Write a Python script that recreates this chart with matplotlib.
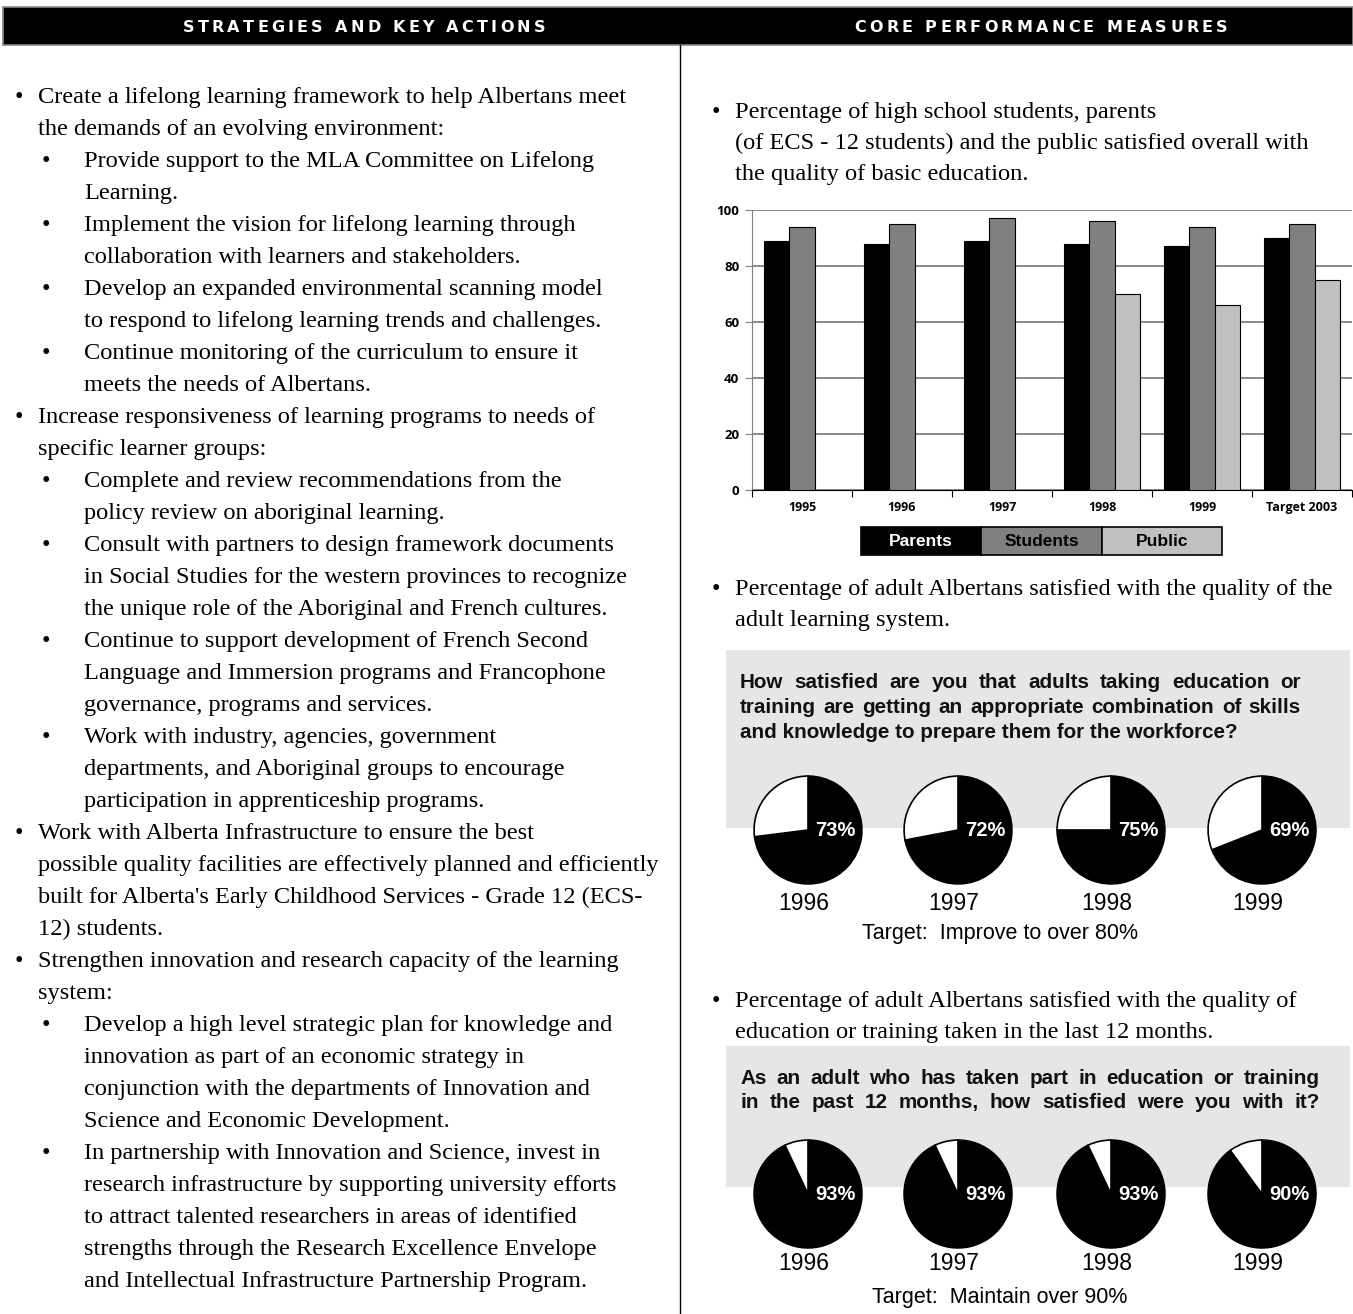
import numpy as np
import matplotlib.pyplot as plt
from matplotlib.patches import Rectangle

# ---- data ----
bar_years = ['1995', '1996', '1997', '1998', '1999', 'Target 2003']
parents = [89, 88, 89, 88, 87, 90]
students = [94, 95, 97, 96, 94, 95]
public = [np.nan, np.nan, np.nan, 70, 66, 75]
series_names = ['Parents', 'Students', 'Public']

pie_years = ['1996', '1997', '1998', '1999']
skills_pct = [73, 72, 75, 69]
training_pct = [93, 93, 93, 90]

left_lines = [
    (0, True, "Create a lifelong learning framework to help Albertans meet"),
    (0, False, "the demands of an evolving environment:"),
    (1, True, "Provide support to the MLA Committee on Lifelong"),
    (1, False, "Learning."),
    (1, True, "Implement the vision for lifelong learning through"),
    (1, False, "collaboration with learners and stakeholders."),
    (1, True, "Develop an expanded environmental scanning model"),
    (1, False, "to respond to lifelong learning trends and challenges."),
    (1, True, "Continue monitoring of the curriculum to ensure it"),
    (1, False, "meets the needs of Albertans."),
    (0, True, "Increase responsiveness of learning programs to needs of"),
    (0, False, "specific learner groups:"),
    (1, True, "Complete and review recommendations from the"),
    (1, False, "policy review on aboriginal learning."),
    (1, True, "Consult with partners to design framework documents"),
    (1, False, "in Social Studies for the western provinces to recognize"),
    (1, False, "the unique role of the Aboriginal and French cultures."),
    (1, True, "Continue to support development of French Second"),
    (1, False, "Language and Immersion programs and Francophone"),
    (1, False, "governance, programs and services."),
    (1, True, "Work with industry, agencies, government"),
    (1, False, "departments, and Aboriginal groups to encourage"),
    (1, False, "participation in apprenticeship programs."),
    (0, True, "Work with Alberta Infrastructure to ensure the best"),
    (0, False, "possible quality facilities are effectively planned and efficiently"),
    (0, False, "built for Alberta's Early Childhood Services - Grade 12 (ECS-"),
    (0, False, "12) students."),
    (0, True, "Strengthen innovation and research capacity of the learning"),
    (0, False, "system:"),
    (1, True, "Develop a high level strategic plan for knowledge and"),
    (1, False, "innovation as part of an economic strategy in"),
    (1, False, "conjunction with the departments of Innovation and"),
    (1, False, "Science and Economic Development."),
    (1, True, "In partnership with Innovation and Science, invest in"),
    (1, False, "research infrastructure by supporting university efforts"),
    (1, False, "to attract talented researchers in areas of identified"),
    (1, False, "strengths through the Research Excellence Envelope"),
    (1, False, "and Intellectual Infrastructure Partnership Program."),
]

measure1 = ["Percentage of high school students, parents",
            "(of ECS - 12 students) and the public satisfied overall with",
            "the quality of basic education."]
measure2 = ["Percentage of adult Albertans satisfied with the quality of the",
            "adult learning system."]
measure3 = ["Percentage of adult Albertans satisfied with the quality of",
            "education or training taken in the last 12 months."]
question1 = ["How satisfied are you that adults taking education or",
             "training are getting an appropriate combination of skills",
             "and knowledge to prepare them for the workforce?"]
question2 = ["As an adult who has taken part in education or training",
             "in the past 12 months, how satisfied were you with it?"]
target1 = "Target:  Improve to over 80%"
target2 = "Target:  Maintain over 90%"

# ---- page setup (1 data unit = 1 pixel) ----
W, H = 1353, 1314
fig = plt.figure(figsize=(W / 100, H / 100), dpi=100)
page = fig.add_axes([0, 0, 1, 1])
page.set_xlim(0, W)
page.set_ylim(H, 0)
page.axis('off')
R = fig.canvas.get_renderer()

SERIF = 'Liberation Serif'
SANS = 'Liberation Sans'


def box_axes(x0, y0, x1, y1):
    return fig.add_axes([x0 / W, 1 - y1 / H, (x1 - x0) / W, (y1 - y0) / H])


def width_of(s, **kw):
    t = page.text(0, 0, s, **kw)
    w = t.get_window_extent(renderer=R).width
    t.remove()
    return w


def tracked(xc, y, s, target_w, **kw):
    # letter-spaced heading, centred on xc
    widths = [width_of(c, **kw) if c != ' ' else 0 for c in s]
    space = width_of('n', **kw) * 0.5
    widths = [w if w > 0 else space for w in widths]
    gap = (target_w - sum(widths)) / (len(s) - 1)
    x = xc - target_w / 2
    for c, w in zip(s, widths):
        page.text(x, y, c, ha='left', va='center', **kw)
        x += w + gap


def justify(s, x0, x1, y, **kw):
    words = s.split()
    widths = [width_of(w, **kw) for w in words]
    gap = (x1 - x0 - sum(widths)) / (len(words) - 1)
    x = x0
    for w, wd in zip(words, widths):
        page.text(x, y, w, ha='left', va='center_baseline', **kw)
        x += wd + gap


# ---- header band ----
page.add_patch(Rectangle((3, 7), 1350, 38, fc='black', ec='#888888', lw=1.2))
head_kw = dict(color='white', fontsize=11.5, weight='bold', family='DejaVu Sans')
tracked(364, 27, "STRATEGIES AND KEY ACTIONS", 362, **head_kw)
tracked(1041, 27, "CORE PERFORMANCE MEASURES", 373, **head_kw)
page.plot([680, 680], [45, H], color='black', lw=1)

# ---- left column text ----
body_size = 10 * 589 / width_of(left_lines[0][2], fontsize=10, family=SERIF)
body_kw = dict(fontsize=body_size, family=SERIF, color='black')
y = 95
for level, bullet, line in left_lines:
    if bullet:
        page.text(15 if level == 0 else 42, y, '•', ha='left', va='center_baseline', **body_kw)
    page.text(38 if level == 0 else 84, y, line, ha='left', va='center_baseline', **body_kw)
    y += 32.0


def measure_text(lines, y0):
    page.text(712, y0, '•', ha='left', va='center_baseline', **body_kw)
    for i, line in enumerate(lines):
        page.text(735, y0 + i * 31, line, ha='left', va='center_baseline', **body_kw)


# ---- measure 1: bar chart ----
measure_text(measure1, 110)
ax = box_axes(752, 210, 1352, 490)
x = np.arange(len(bar_years)) + 0.5
bw = 0.255
colors = ['black', '#808080', '#c0c0c0']
for k, vals in enumerate([parents, students, public]):
    ax.bar(x + (k - 1) * bw, vals, bw, color=colors[k], edgecolor='black',
           linewidth=0.8, zorder=3)
ax.set_xlim(0, len(bar_years))
ax.set_ylim(0, 100)
ax.set_yticks([0, 20, 40, 60, 80, 100])
ax.yaxis.grid(True, color='#808080', lw=1.3, zorder=0)
ax.set_xticks(np.arange(len(bar_years) + 1))
ax.set_xticklabels([])
ax.set_xticks(x, minor=True)
ax.set_xticklabels(bar_years, minor=True, fontsize=9, weight='bold', family='Open Sans')
ax.tick_params(axis='x', which='major', direction='out', length=5, width=0.8)
ax.tick_params(axis='x', which='minor', length=0, pad=8)
ax.tick_params(axis='y', direction='out', length=5, width=0.8, pad=4, colors='#808080')
for lab in ax.get_yticklabels():
    lab.set_fontsize(9.5)
    lab.set_weight('bold')
    lab.set_family('Open Sans')
    lab.set_color('black')
for s in ['top', 'right']:
    ax.spines[s].set_visible(False)
ax.spines['left'].set_color('#808080')
ax.spines['bottom'].set_color('black')
ax.patch.set_alpha(0)

# legend drawn as a one-row table
lax = box_axes(861, 527, 1222, 555)
lax.axis('off')
tbl = lax.table(cellText=[series_names], cellColours=[colors], cellLoc='center',
                bbox=[0, 0, 1, 1])
tbl.auto_set_font_size(False)
for (r, c), cell in tbl.get_celld().items():
    cell.set_edgecolor('black')
    cell.set_linewidth(1.2)
    cell.get_text().set_fontsize(12.5)
    cell.get_text().set_weight('bold')
    cell.get_text().set_family(SANS)
    cell.get_text().set_color('white' if c == 0 else 'black')


# ---- pie panels ----
pie_cx = [808, 958, 1111, 1262]
q_size = 10 * 548 / width_of(question1[1], fontsize=10, weight='bold', family=SANS)


def pie_panel(question, pcts, target, box_top, box_bot, q_y0, q_right, pie_cy, year_y, target_y):
    page.add_patch(Rectangle((726, box_top), 624, box_bot - box_top, fc='#e6e6e6', ec='none'))
    q_kw = dict(fontsize=q_size, weight='bold', family=SANS, color='#111111')
    for i, line in enumerate(question):
        yy = q_y0 + i * 24.5
        if i < len(question) - 1 or len(question) == 2:
            justify(line, 740, q_right, yy, **q_kw)
        else:
            page.text(740, yy, line, ha='left', va='center_baseline', **q_kw)
    r = 54
    for cx, pct, yr in zip(pie_cx, pcts, pie_years):
        pax = box_axes(cx - r - 1, pie_cy - r - 1, cx + r + 1, pie_cy + r + 1)
        pax.pie([pct, 100 - pct], colors=['black', 'white'], startangle=90,
                counterclock=False, radius=1,
                wedgeprops=dict(edgecolor='black', linewidth=1.2))
        pax.set_xlim(-1.02, 1.02)
        pax.set_ylim(-1.02, 1.02)
        pax.text(0.5, 0.0, f'{pct}%', color='white', fontsize=14.5, weight='bold',
                 family=SANS, ha='center', va='center')
        page.text(cx - 4, year_y, yr, fontsize=16.5, family=SANS, ha='center', va='center')
    page.text(1000, target_y, target, fontsize=15.5, family=SANS, ha='center', va='center')


measure_text(measure2, 587)
pie_panel(question1, skills_pct, target1, 650, 828, 681, 1301, 830, 903, 934)

measure_text(measure3, 999)
pie_panel(question2, training_pct, target2, 1046, 1187, 1076, 1320, 1194, 1264, 1298)

fig.savefig('out.png', dpi=100)
